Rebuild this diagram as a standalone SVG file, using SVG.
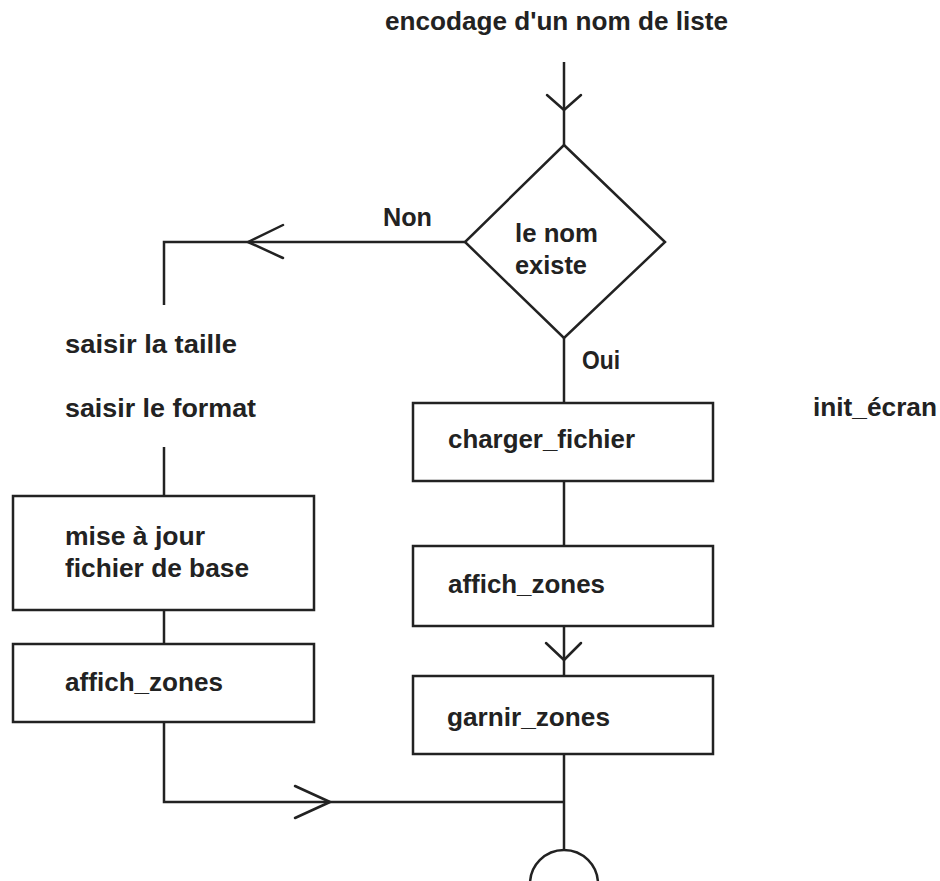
<svg xmlns="http://www.w3.org/2000/svg" width="940" height="881" viewBox="0 0 940 881">
  <style>
    .bg { fill: #ffffff; }
    .shape { fill: none; stroke: #222; stroke-width: 2.5; }
    .line { fill: none; stroke: #222; stroke-width: 2.5; stroke-linejoin: miter; }
    .head { fill: none; stroke: #222; stroke-width: 2.5; stroke-linecap: round; stroke-linejoin: round; }
    .lbl { font-family: "Liberation Sans", Arial, sans-serif; font-weight: bold; font-size: 25px; fill: #222; }
  </style>
  <rect class="bg" x="0" y="0" width="940" height="881"/>

  <!-- connectors -->
  <g id="connectors">
    <!-- entry into the test -->
    <line class="line" x1="564" y1="62" x2="564" y2="145"/>
    <polyline class="head" points="547,95 564,110 581,95"/>
    <!-- Non branch -->
    <polyline class="line" points="465,242 164,242 164,305"/>
    <polyline class="head" points="283,225 248,242 283,258"/>
    <line class="line" x1="164" y1="447" x2="164" y2="496"/>
    <line class="line" x1="164" y1="610" x2="164" y2="644"/>
    <polyline class="line" points="164,722 164,802 564,802"/>
    <polyline class="head" points="295,786 330,802 295,818"/>
    <!-- Oui branch -->
    <line class="line" x1="564" y1="338" x2="564" y2="403"/>
    <line class="line" x1="564" y1="481" x2="564" y2="546"/>
    <line class="line" x1="564" y1="626" x2="564" y2="676"/>
    <polyline class="head" points="546,643 564,660 581,643"/>
    <line class="line" x1="564" y1="754" x2="564" y2="850"/>
  </g>

  <!-- title -->
  <g id="start">
    <text class="lbl" x="385" y="30" textLength="343" lengthAdjust="spacingAndGlyphs">encodage d'un nom de liste</text>
  </g>

  <!-- decision -->
  <g id="test-nom">
    <polygon class="shape" points="564,145 665,242 564,338 465,242"/>
    <text class="lbl" x="515" y="242" textLength="83" lengthAdjust="spacingAndGlyphs">le nom</text>
    <text class="lbl" x="515" y="274" textLength="72" lengthAdjust="spacingAndGlyphs">existe</text>
  </g>
  <g id="label-non">
    <text class="lbl" x="383" y="226" textLength="49" lengthAdjust="spacingAndGlyphs">Non</text>
  </g>
  <g id="label-oui">
    <text class="lbl" x="582" y="369" textLength="38" lengthAdjust="spacingAndGlyphs">Oui</text>
  </g>

  <!-- Non branch -->
  <g id="saisies">
    <text class="lbl" x="65" y="353" textLength="172" lengthAdjust="spacingAndGlyphs">saisir la taille</text>
    <text class="lbl" x="65" y="417" textLength="191" lengthAdjust="spacingAndGlyphs">saisir le format</text>
  </g>
  <g id="maj-fichier">
    <rect class="shape" x="13" y="496" width="301" height="114"/>
    <text class="lbl" x="65" y="545" textLength="140" lengthAdjust="spacingAndGlyphs">mise à jour</text>
    <text class="lbl" x="65" y="577" textLength="184" lengthAdjust="spacingAndGlyphs">fichier de base</text>
  </g>
  <g id="affich-zones-1">
    <rect class="shape" x="13" y="644" width="301" height="78"/>
    <text class="lbl" x="65" y="691" textLength="158" lengthAdjust="spacingAndGlyphs">affich_zones</text>
  </g>

  <!-- Oui branch -->
  <g id="charger-fichier">
    <rect class="shape" x="413" y="403" width="300" height="78"/>
    <text class="lbl" x="448" y="448" textLength="187" lengthAdjust="spacingAndGlyphs">charger_fichier</text>
  </g>
  <g id="affich-zones-2">
    <rect class="shape" x="413" y="546" width="300" height="80"/>
    <text class="lbl" x="448" y="593" textLength="157" lengthAdjust="spacingAndGlyphs">affich_zones</text>
  </g>
  <g id="garnir-zones">
    <rect class="shape" x="413" y="676" width="300" height="78"/>
    <text class="lbl" x="447" y="726" textLength="163" lengthAdjust="spacingAndGlyphs">garnir_zones</text>
  </g>

  <!-- side note -->
  <g id="init-ecran">
    <text class="lbl" x="813" y="416" textLength="124" lengthAdjust="spacingAndGlyphs">init_écran</text>
  </g>

  <!-- end connector -->
  <g id="end">
    <circle class="shape" cx="564" cy="884" r="34"/>
  </g>
</svg>
